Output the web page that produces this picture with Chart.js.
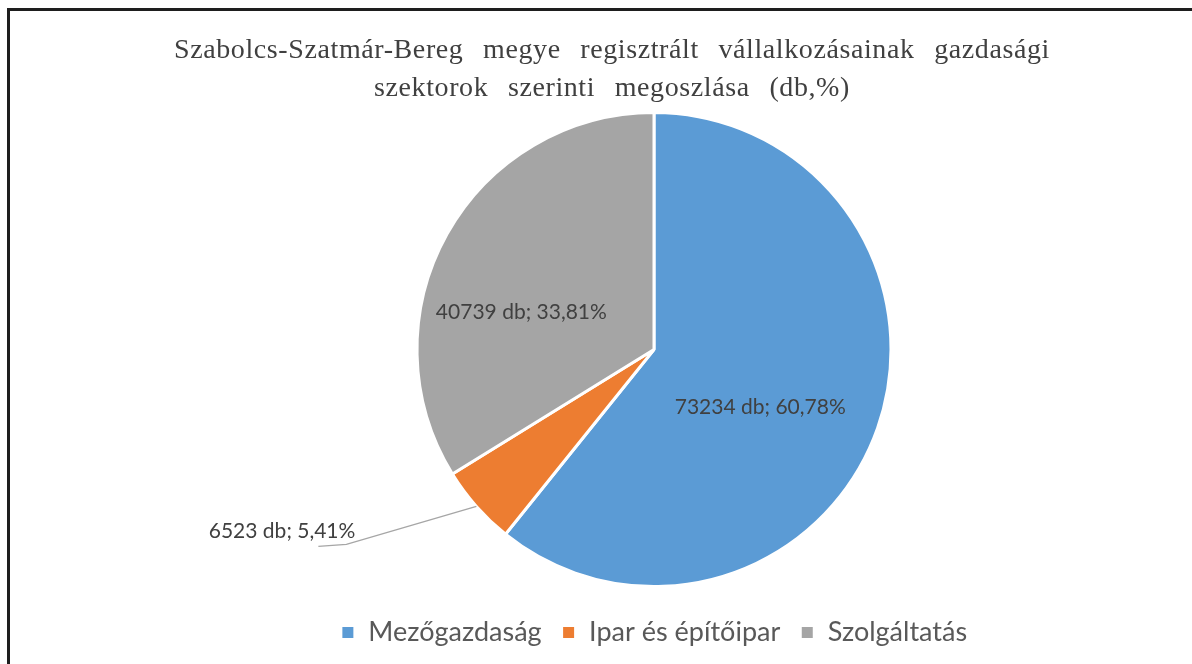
<!DOCTYPE html>
<html>
<head>
<meta charset="utf-8">
<script src="https://cdn.jsdelivr.net/npm/chart.js@4.4.0/dist/chart.umd.min.js"></script>
<style>
  html, body { margin: 0; padding: 0; background: #ffffff; }
  #wrap { position: relative; width: 1192px; height: 664px; overflow: hidden; }
  #frame {
    position: absolute; left: 7px; top: 8px; width: 1300px; height: 800px;
    border-left: 3px solid #1e1e1e; border-top: 3px solid #1e1e1e;
    pointer-events: none;
  }
  canvas { position: absolute; left: 0; top: 0; }
</style>
</head>
<body>
<div id="wrap">
  <canvas id="pieChart" width="1192" height="664"></canvas>
  <div id="frame"></div>
</div>
<script>
const titleLines = [
  'Szabolcs-Szatmár-Bereg megye regisztrált vállalkozásainak gazdasági',
  'szektorok szerinti megoszlása (db,%)'
];
const sectors = ['Mezőgazdaság', 'Ipar és építőipar', 'Szolgáltatás'];
const counts = [73234, 6523, 40739];
const shares = [60.78, 5.41, 33.81];
const sliceColors = ['#5B9BD5', '#ED7D31', '#A5A5A5'];

function labelText(i) {
  return counts[i] + ' db; ' + shares[i].toFixed(2).replace('.', ',') + '%';
}

// title drawn by hand so the wide word spacing of the original can be kept
const titlePlugin = {
  id: 'wideTitle',
  afterDraw(chart) {
    const ctx = chart.ctx;
    ctx.save();
    ctx.font = '28px "Liberation Serif", "Times New Roman", serif';
    ctx.fillStyle = '#404040';
    ctx.textAlign = 'center';
    ctx.textBaseline = 'middle';
    if ('letterSpacing' in ctx) ctx.letterSpacing = '0.6px';
    if ('wordSpacing' in ctx) ctx.wordSpacing = '12px';
    titleLines.forEach((line, i) => {
      ctx.fillText(line, 612, 51 + i * 38);
    });
    ctx.restore();
  }
};

// data labels: inside for the big slices, outside with a leader line for small ones
// (Excel's best-fit puts the inner labels a bit off the bisector, hence the nudges)
const nudge = [[-10, 17], [0, 0], [-25, 23]];

const sliceLabels = {
  id: 'sliceLabels',
  afterDatasetsDraw(chart) {
    const ctx = chart.ctx;
    const meta = chart.getDatasetMeta(0);
    ctx.save();
    ctx.font = '21px Lato, "Open Sans", sans-serif';
    ctx.fillStyle = '#404040';
    ctx.textBaseline = 'middle';
    meta.data.forEach((arc, i) => {
      const { x, y, startAngle, endAngle, outerRadius } = arc.getProps(['x', 'y', 'startAngle', 'endAngle', 'outerRadius'], true);
      const mid = (startAngle + endAngle) / 2;
      const txt = labelText(i);
      if (shares[i] > 10) {
        const r = outerRadius * 0.52;
        ctx.textAlign = 'center';
        ctx.fillText(txt, x + Math.cos(mid) * r + nudge[i][0], y + Math.sin(mid) * r + nudge[i][1]);
      } else {
        const ex = x + Math.cos(mid) * outerRadius;
        const ey = y + Math.sin(mid) * outerRadius;
        const bx = ex - 130, by = ey + 38;
        ctx.strokeStyle = '#a6a6a6';
        ctx.lineWidth = 1.3;
        ctx.beginPath();
        ctx.moveTo(ex, ey);
        ctx.lineTo(bx, by);
        ctx.lineTo(bx - 28, by + 2);
        ctx.stroke();
        ctx.textAlign = 'right';
        ctx.fillText(txt, bx + 9, by - 13);
      }
    });
    ctx.restore();
  }
};

window.addEventListener('DOMContentLoaded', () => {
  const ctx = document.getElementById('pieChart').getContext('2d');

  new Chart(ctx, {
    type: 'pie',
    data: {
      labels: sectors,
      datasets: [{
        data: counts,
        backgroundColor: sliceColors,
        borderColor: '#ffffff',
        borderWidth: 3,
        radius: 237
      }]
    },
    options: {
      responsive: false,
      animation: false,
      devicePixelRatio: 1,
      layout: { padding: { top: 100, bottom: 8, left: 116, right: 0 } },
      plugins: {
        title: { display: false },
        tooltip: { enabled: false },
        legend: {
          position: 'bottom',
          labels: {
            boxWidth: 14,
            boxHeight: 14,
            padding: 20,
            color: '#595959',
            font: { size: 27, family: 'Lato, "Open Sans", sans-serif' }
          }
        }
      }
    },
    plugins: [sliceLabels, titlePlugin]
  });
});
</script>
</body>
</html>
